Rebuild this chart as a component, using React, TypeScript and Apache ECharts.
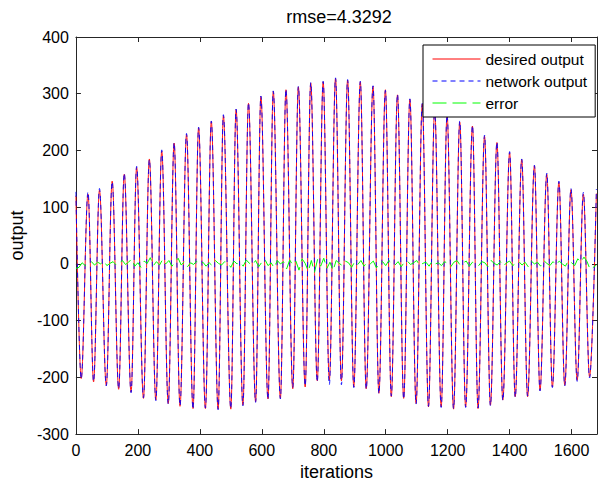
import { useEffect, useRef } from "react";
import * as echarts from "echarts";

const chartTitle = "rmse=4.3292";
const xName = "iterations";
const yName = "output";
const seriesNames = ["desired output", "network output", "error"];

const X_MAX = 1682;
const yTickMin = -300;
const yTickMax = 400;

// positions (iterations) of the local maxima / minima
const peakX = [39, 76, 117, 156, 196, 237, 277, 317, 357, 396, 437, 476, 517, 557, 597, 637, 678, 718, 758, 798, 838, 877, 918, 959, 999, 1038, 1078, 1118, 1158, 1198, 1239, 1280, 1319, 1359, 1400, 1439, 1480, 1520, 1559, 1598, 1638];
const desiredPeak = [123, 130, 146, 158, 170, 185, 199, 213, 228, 240, 251, 261, 272, 283, 295, 304, 307, 312, 319, 321, 327, 324, 321, 313, 307, 298, 290, 282, 272, 262, 250, 243, 225, 214, 196, 184, 173, 158, 144, 131, 123];
const networkPeak = [127, 133, 145, 160, 172, 184, 201, 214, 230, 241, 252, 263, 273, 284, 296, 305, 308, 313, 320, 322, 328, 325, 322, 314, 306, 299, 291, 283, 273, 263, 252, 244, 227, 215, 198, 185, 174, 160, 146, 133, 126];

const troughX = [17, 57, 98, 138, 178, 218, 258, 298, 336, 378, 418, 459, 500, 539, 580, 620, 660, 700, 740, 779, 818, 857, 897, 937, 978, 1018, 1058, 1098, 1138, 1179, 1219, 1258, 1298, 1338, 1378, 1418, 1458, 1498, 1538, 1578, 1618, 1658];
const desiredTrough = [-202, -208, -214, -221, -226, -237, -240, -246, -251, -255, -255, -256, -256, -249, -243, -238, -237, -220, -217, -206, -205, -206, -217, -220, -228, -234, -237, -246, -252, -252, -256, -252, -255, -249, -240, -234, -234, -223, -217, -214, -205, -199];
const networkTrough = [-203, -207, -215, -220, -227, -236, -241, -247, -250, -256, -254, -257, -255, -250, -244, -239, -238, -218, -215, -208, -213, -213, -218, -221, -229, -233, -238, -247, -251, -253, -255, -253, -254, -250, -241, -235, -233, -224, -218, -215, -207, -201];

const startX = 0;
const endX = 1680;
const desiredEnds = [120, 124];
const networkEnds = [127, 132];

// error trace, sampled every 10 iterations
const errorStep = 10;
const errorValues = [
  -8, -6, 2, -3, 1, 4, -2, 3, 0, 5, -3, 1, 4, -2, 2, 6, -1, 3, 9, -4,
  2, -6, 5, 1, 11, -3, 4, -2, 8, 0, 6, -4, 3, 10, -2, 4, -5, 2, -1, 5,
  0, 3, -4, 2, -3, 6, 1, -2, 4, 2, -6, 5, 0, 3, -4, 7, 1, -2, 6, -5,
  3, 8, -3, 2, -7, 6, 0, 4, -9, 7, -2, 5, -11, 9, 1, -13, 6, -15, 8, -4,
  10, -8, 3, -12, 6, 1, -3, 5, 2, -6, 4, -1, 6, -4, 3, 0, 5, -7, 2, 4,
  -3, 6, 1, -2, 4, -5, 3, 5, -1, 2, 6, -3, 1, 3, -4, 5, 0, 2, -3, 4,
  1, -5, 3, 6, -2, 2, 5, -4, 3, 0, -3, 4, 2, -5, 6, 1, -2, 4, -4, 2,
  5, -3, 1, 4, -2, 3, -5, 5, 0, 3, -4, 6, 1, -3, 4, -2, 5, 0, -4, 6,
  2, -3, 9, 3, 12, 4, -10, -6, -2,
];

function buildSeries(peaks: number[], troughs: number[], ends: number[]) {
  const pts: number[][] = [[startX, ends[0]]];
  peakX.forEach((x, i) => pts.push([x, peaks[i]]));
  troughX.forEach((x, i) => pts.push([x, troughs[i]]));
  pts.push([endX, ends[1]]);
  pts.sort((a, b) => a[0] - b[0]);
  return pts;
}

const FONT = "'Liberation Sans', Arial, Helvetica, sans-serif";
const AXIS_COLOR = "#262626";

export default function App() {
  const ref = useRef<HTMLDivElement>(null);
  useEffect(() => {
    if (!ref.current) return;
    const chart = echarts.init(ref.current, undefined, { renderer: "svg" });
    const desired = buildSeries(desiredPeak, desiredTrough, desiredEnds);
    const network = buildSeries(networkPeak, networkTrough, networkEnds);
    const error = errorValues.map((v, i) => [i * errorStep, v]);

    const baseX = {
      type: "value" as const,
      min: 0,
      max: X_MAX,
      interval: 200,
      splitLine: { show: false },
      axisLine: { show: true, onZero: false, lineStyle: { color: AXIS_COLOR, width: 1 } },
      axisTick: { show: true, inside: true, length: 5, lineStyle: { color: AXIS_COLOR } },
    };
    const baseY = {
      type: "value" as const,
      min: yTickMin,
      max: yTickMax,
      interval: 100,
      splitLine: { show: false },
      axisLine: { show: true, onZero: false, lineStyle: { color: AXIS_COLOR, width: 1 } },
      axisTick: { show: true, inside: true, length: 5, lineStyle: { color: AXIS_COLOR } },
    };

    chart.setOption({
      animation: false,
      backgroundColor: "#ffffff",
      textStyle: { fontFamily: FONT },
      title: {
        text: chartTitle,
        left: 334,
        top: 3,
        textAlign: "center",
        textStyle: { fontSize: 18, fontWeight: "normal", color: "#000", fontFamily: FONT },
      },
      grid: { left: 74, top: 37, right: 9, bottom: 47, containLabel: false },
      legend: {
        orient: "vertical",
        left: 423,
        top: 45,
        itemWidth: 48,
        itemHeight: 14,
        itemGap: 6,
        padding: [6, 8, 6, 9],
        backgroundColor: "#ffffff",
        borderColor: "#000",
        borderWidth: 1,
        borderRadius: 0,
        itemStyle: { opacity: 0 },
        lineStyle: { width: 1 },
        textStyle: { fontSize: 15.5, color: "#000", fontFamily: FONT, lineHeight: 16 },
        data: seriesNames,
      },
      xAxis: [
        {
          ...baseX,
          position: "bottom",
          name: xName,
          nameLocation: "middle",
          nameGap: 22,
          nameTextStyle: { fontSize: 18, color: "#000", fontFamily: FONT },
          axisLabel: {
            show: true,
            fontSize: 16,
            color: "#000",
            margin: 8,
            showMaxLabel: false,
            fontFamily: FONT,
            formatter: (v: number) => String(v),
          },
        },
        {
          ...baseX,
          position: "top",
          axisLabel: { show: false },
        },
      ],
      yAxis: [
        {
          ...baseY,
          position: "left",
          name: yName,
          nameLocation: "middle",
          nameGap: 45,
          nameTextStyle: { fontSize: 18, color: "#000", fontFamily: FONT },
          axisLabel: {
            show: true,
            fontSize: 16,
            color: "#000",
            margin: 7,
            fontFamily: FONT,
            formatter: (v: number) => String(v),
          },
        },
        {
          ...baseY,
          position: "right",
          axisLabel: { show: false },
        },
      ],
      series: [
        {
          name: seriesNames[0],
          type: "line",
          data: desired,
          symbol: "none",
          smooth: 0.36,
          smoothMonotone: "x",
          lineStyle: { color: "#ff0000", width: 0.9, type: "solid" },
          itemStyle: { color: "#ff0000" },
          z: 2,
        },
        {
          name: seriesNames[1],
          type: "line",
          data: network,
          symbol: "none",
          smooth: 0.36,
          smoothMonotone: "x",
          lineStyle: { color: "#0000ff", width: 0.9, type: [5, 4] },
          itemStyle: { color: "#0000ff" },
          z: 3,
        },
        {
          name: seriesNames[2],
          type: "line",
          data: error,
          symbol: "none",
          lineStyle: { color: "#00ff00", width: 1, type: [14, 6] },
          itemStyle: { color: "#00ff00" },
          z: 4,
        },
      ],
    });
    return () => chart.dispose();
  }, []);
  return (
    <div
      ref={ref}
      style={{ position: "fixed", left: 0, top: 0, width: 606, height: 486, background: "#fff" }}
    />
  );
}
